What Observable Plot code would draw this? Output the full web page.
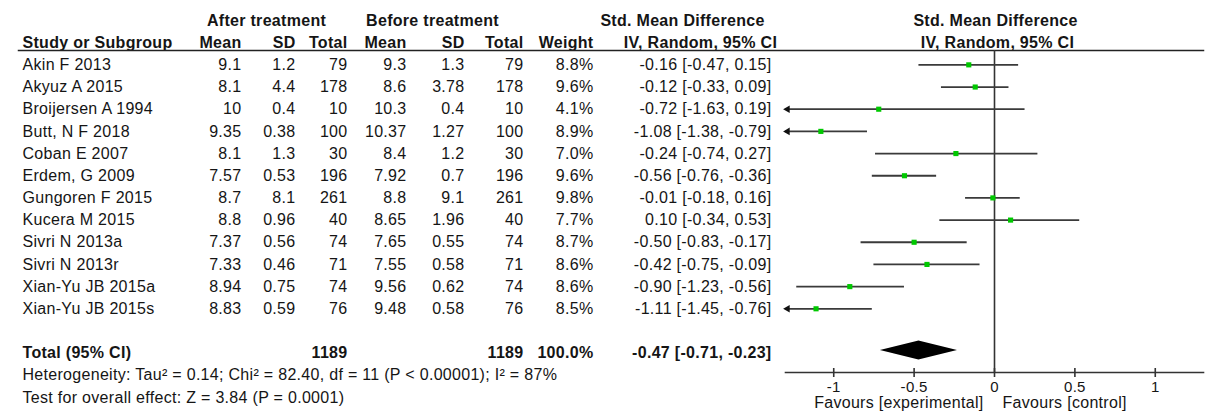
<!DOCTYPE html>
<html>
<head>
<meta charset="utf-8">
<script src="https://cdn.jsdelivr.net/npm/d3@7"></script>
<script src="https://cdn.jsdelivr.net/npm/@observablehq/plot@0.6"></script>
<style>
  html, body { margin: 0; padding: 0; background: #fff; }
  #chart svg { display: block; }
  #chart svg text { letter-spacing: 0.3px; }
</style>
</head>
<body>
<div id="chart"></div>
<script>
// ---- data ----
const studies = ["Akin F 2013", "Akyuz A 2015", "Broijersen A 1994", "Butt, N F 2018", "Coban E 2007", "Erdem, G 2009", "Gungoren F 2015", "Kucera M 2015", "Sivri N 2013a", "Sivri N 2013r", "Xian-Yu JB 2015a", "Xian-Yu JB 2015s"];
const afterMean = ["9.1", "8.1", "10", "9.35", "8.1", "7.57", "8.7", "8.8", "7.37", "7.33", "8.94", "8.83"];
const afterSD = ["1.2", "4.4", "0.4", "0.38", "1.3", "0.53", "8.1", "0.96", "0.56", "0.46", "0.75", "0.59"];
const afterTotal = ["79", "178", "10", "100", "30", "196", "261", "40", "74", "71", "74", "76"];
const beforeMean = ["9.3", "8.6", "10.3", "10.37", "8.4", "7.92", "8.8", "8.65", "7.65", "7.55", "9.56", "9.48"];
const beforeSD = ["1.3", "3.78", "0.4", "1.27", "1.2", "0.7", "9.1", "1.96", "0.55", "0.58", "0.62", "0.58"];
const beforeTotal = ["79", "178", "10", "100", "30", "196", "261", "40", "74", "71", "74", "76"];
const weights = [8.8, 9.6, 4.1, 8.9, 7.0, 9.6, 9.8, 7.7, 8.7, 8.6, 8.6, 8.5];
const smd = [-0.16, -0.12, -0.72, -1.08, -0.24, -0.56, -0.01, 0.10, -0.50, -0.42, -0.90, -1.11];
const ciLow = [-0.47, -0.33, -1.63, -1.38, -0.74, -0.76, -0.18, -0.34, -0.83, -0.75, -1.23, -1.45];
const ciHigh = [0.15, 0.09, 0.19, -0.79, 0.27, -0.36, 0.16, 0.53, -0.17, -0.09, -0.56, -0.76];

const totalLabel = "Total (95% CI)";
const totalAfter = "1189";
const totalBefore = "1189";
const totalWeight = "100.0%";
const pooled = {est: -0.47, lo: -0.71, hi: -0.23};
const heterogeneity = "Heterogeneity: Tau² = 0.14; Chi² = 82.40, df = 11 (P < 0.00001); I² = 87%";
const overallTest = "Test for overall effect: Z = 3.84 (P = 0.0001)";

const groupHeaders = ["After treatment", "Before treatment", "Std. Mean Difference", "Std. Mean Difference"];
const columnHeaders = ["Study or Subgroup", "Mean", "SD", "Total", "Mean", "SD", "Total", "Weight", "IV, Random, 95% CI", "IV, Random, 95% CI"];
const axisTicks = [-1, -0.5, 0, 0.5, 1];
const favoursLeft = "Favours [experimental]";
const favoursRight = "Favours [control]";
const xDomain = [-1.3, 1.3];

// ---- derived table ----
const f2 = v => v.toFixed(2);
const rows = studies.map((s, i) => ({
  study: s, row: 2 + i,
  est: smd[i], lo: ciLow[i], hi: ciHigh[i],
  loClip: Math.max(ciLow[i], xDomain[0]),
  clipped: ciLow[i] < xDomain[0],
  ci: `${f2(smd[i])} [${f2(ciLow[i])}, ${f2(ciHigh[i])}]`,
  weight: weights[i].toFixed(1) + "%"
}));
const TOTAL_ROW = 15, HET_ROW = 16, TEST_ROW = 17;

// ---- styling (positions in pixels) ----
const FONT = "'Liberation Sans', Arial, Helvetica, sans-serif";
const FS = 16;
const INK = "#151515";
const colRight = [241, 295, 347, 406, 464, 523, 593, 771];
const studyLeft = 22;

function textCol(values, rowOf, dx, anchor, bold) {
  return Plot.text(values, {
    y: rowOf, text: d => d, frameAnchor: "left", dx, textAnchor: anchor,
    fontSize: FS, fontWeight: bold ? "bold" : "normal", fill: INK
  });
}

const marks = [];
// group headers (row 0)
const groupPos = [[266, "middle"], [432, "middle"], [682, "middle"], [995, "middle"]];
groupHeaders.forEach((h, i) => marks.push(textCol([h], () => 0, groupPos[i][0], groupPos[i][1], true)));
// column headers (row 1)
const headPos = [[studyLeft, "start"], [241, "end"], [295, "end"], [347, "end"], [406, "end"], [464, "end"], [523, "end"], [593, "end"], [700, "middle"], [997, "middle"]];
columnHeaders.forEach((h, i) => marks.push(textCol([h], () => 1, headPos[i][0], headPos[i][1], true)));

// study rows
const rowOf = (d, i) => 2 + i;
marks.push(textCol(studies, rowOf, studyLeft, "start", false));
[afterMean, afterSD, afterTotal, beforeMean, beforeSD, beforeTotal, rows.map(d => d.weight), rows.map(d => d.ci)]
  .forEach((vals, k) => marks.push(textCol(vals, rowOf, colRight[k], "end", false)));

// total row
marks.push(textCol([totalLabel], () => TOTAL_ROW, studyLeft, "start", true));
marks.push(textCol([totalAfter], () => TOTAL_ROW, colRight[2], "end", true));
marks.push(textCol([totalBefore], () => TOTAL_ROW, colRight[5], "end", true));
marks.push(textCol([totalWeight], () => TOTAL_ROW, colRight[6], "end", true));
marks.push(textCol([`${f2(pooled.est)} [${f2(pooled.lo)}, ${f2(pooled.hi)}]`], () => TOTAL_ROW, colRight[7], "end", true));
marks.push(textCol([heterogeneity], () => HET_ROW, studyLeft, "start", false));
marks.push(textCol([overallTest], () => TEST_ROW, studyLeft, "start", false));

// header underline, zero line, axis line
marks.push(Plot.frame({anchor: "top", insetLeft: 18, insetRight: 15, stroke: "#222", strokeWidth: 1.5}));
marks.push(Plot.ruleX([0], {stroke: "#333", strokeWidth: 1.6}));
marks.push(Plot.frame({anchor: "bottom", insetLeft: 785, insetRight: 15, stroke: "#333", strokeWidth: 1.6}));

// CIs
marks.push(Plot.ruleY(rows, {y: "row", x1: "loClip", x2: "hi", stroke: "#3a3a3a", strokeWidth: 1.8}));
marks.push(Plot.dot(rows.filter(d => d.clipped), {x: "loClip", y: "row", symbol: "triangle2", rotate: -90, r: 3.6, fill: "#111", dx: 2}));
marks.push(Plot.dot(rows, {x: "est", y: "row", symbol: "square", r: 2.9, fill: "#00c800"}));

// pooled diamond
const dh = 0.43;
const diamond = [
  {y: TOTAL_ROW - 0.12 - dh, x1: pooled.est, x2: pooled.est},
  {y: TOTAL_ROW - 0.12, x1: pooled.lo, x2: pooled.hi},
  {y: TOTAL_ROW - 0.12 + dh, x1: pooled.est, x2: pooled.est}
];
marks.push(Plot.areaX(diamond, {y: "y", x1: "x1", x2: "x2", fill: "#000"}));

// x axis
marks.push(Plot.axisX({ticks: axisTicks, tickFormat: d => String(d), tickSize: 9, dy: -4, tickPadding: 4,
  fontSize: 15, stroke: "#333", strokeWidth: 1.6, fill: INK}));
marks.push(Plot.text([favoursLeft], {x: () => 0, text: d => d, frameAnchor: "bottom", dy: 35, dx: -11, textAnchor: "end", fontSize: FS, fill: INK}));
marks.push(Plot.text([favoursRight], {x: () => 0, text: d => d, frameAnchor: "bottom", dy: 35, dx: 8, textAnchor: "start", fontSize: FS, fill: INK}));

const chart = Plot.plot({
  width: 1218,
  height: 420,
  marginTop: 50,
  marginBottom: 48,
  marginLeft: 0,
  marginRight: 0,
  style: {fontFamily: FONT, fontSize: FS + "px", background: "#fff", color: INK},
  x: {domain: xDomain, range: [785, 1203], axis: null},
  y: {domain: [0, 17], range: [20, 397], axis: null},
  marks
});
document.getElementById("chart").append(chart);
</script>
</body>
</html>
